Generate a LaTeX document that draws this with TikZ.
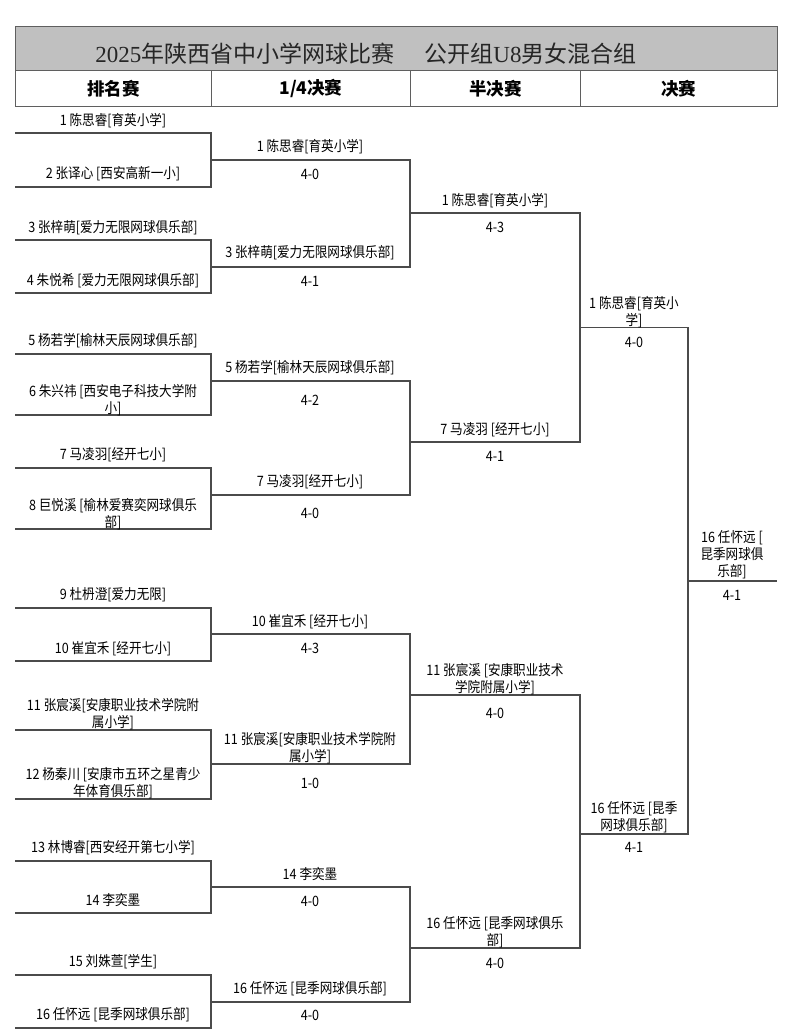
\documentclass[tikz,border=0pt]{standalone}
\usepackage{fontspec}
\setmainfont{Noto Sans CJK SC}
\newfontfamily\lblfont{Noto Sans CJK SC}[FakeStretch=0.88]
\newfontfamily\titleserif{Liberation Serif}
\definecolor{bandgray}{RGB}{192,192,192}
\definecolor{rule}{RGB}{95,95,95}
\definecolor{brk}{RGB}{75,75,75}
\tikzset{
  lbl/.style={inner sep=0pt, align=center, font=\lblfont\fontsize{14.3}{16.8}\selectfont},
  hdr/.style={draw=rule, line width=0.9pt, anchor=north west, minimum height=36pt,
              inner sep=0pt, font=\fontsize{17.5}{20}\selectfont\bfseries},
  brline/.style={draw=brk, line width=1.1pt, line join=miter},
}
\begin{document}
\begin{tikzpicture}[x=1pt,y=-1pt]
\useasboundingbox (0,0) rectangle (800,1035);
\fill[white] (0,0) rectangle (800,1035);

% title band
\draw[fill=bandgray, draw=rule, line width=0.9pt] (15,26) rectangle (777,70.5);
\node[inner sep=0pt, text=black!85, font=\fontsize{23}{26}\selectfont] (title) at (366,54)
  {{\titleserif 2025}年陕西省中小学网球比赛\hspace{1.3em}公开组{\titleserif U8}男女混合组};

% header row
\node[hdr, minimum width=196pt] (h1) at (15,70.5) {排名赛};
\node[hdr, minimum width=199pt] (h2) at (211,70.5) {1/4决赛};
\node[hdr, minimum width=170pt] (h3) at (410,70.5) {半决赛};
\node[hdr, minimum width=197pt] (h4) at (580,70.5) {决赛};

% ---------- coordinates ----------
% round 1 (x 15 -> 211)
\foreach \i/\t/\b in {1/133/187, 2/240/293, 3/354/415, 4/468/529, 5/608/661, 6/730/799, 7/861/913, 8/975/1028}{
  \coordinate (p\i ta) at (15,\t);  \coordinate (p\i tb) at (211,\t);
  \coordinate (p\i ba) at (15,\b);  \coordinate (p\i bb) at (211,\b);
}
% quarter-final lines (x 211 -> 410)
\foreach \i/\y in {1/160, 2/267, 3/381, 4/495, 5/634, 6/764, 7/887, 8/1002}{
  \coordinate (q\i a) at (211,\y); \coordinate (q\i b) at (410,\y);
}
% semi-final lines (x 410 -> 580)
\foreach \i/\y in {1/213, 2/442, 3/695, 4/948}{
  \coordinate (s\i a) at (410,\y); \coordinate (s\i b) at (580,\y);
}
% final lines (x 580 -> 688)
\coordinate (f1a) at (580,327.5); \coordinate (f1b) at (688,327.5);
\coordinate (f2a) at (580,834);   \coordinate (f2b) at (688,834);
% champion line
\coordinate (ca) at (688,581); \coordinate (cb) at (777,581);

% ---------- bracket lines ----------
\foreach \i in {1,...,8}{
  \draw[brline] (p\i ta) -- (p\i tb) -- (p\i bb) -- (p\i ba);
}
\draw[brline] (q1a) -- (q1b) -- (q2b) -- (q2a);
\draw[brline] (q3a) -- (q3b) -- (q4b) -- (q4a);
\draw[brline] (q5a) -- (q5b) -- (q6b) -- (q6a);
\draw[brline] (q7a) -- (q7b) -- (q8b) -- (q8a);
\draw[brline] (s1a) -- (s1b) -- (s2b) -- (s2a);
\draw[brline] (s3a) -- (s3b) -- (s4b) -- (s4a);
\draw[brline] (f1a) -- (f1b) -- (f2b) -- (f2a);
\draw[brline] (ca) -- (cb);

% ---------- round 1 labels (center x 113) ----------
\node[lbl] (r1) at (113,121) {1 陈思睿[育英小学]};
\node[lbl] (r2) at (113,174) {2 张译心 [西安高新一小]};
\node[lbl] (r3) at (113,228) {3 张梓萌[爱力无限网球俱乐部]};
\node[lbl] (r4) at (113,281) {4 朱悦希 [爱力无限网球俱乐部]};
\node[lbl] (r5) at (113,341) {5 杨若学[榆林天辰网球俱乐部]};
\node[lbl] (r6) at (113,400) {6 朱兴祎 [西安电子科技大学附\\小]};
\node[lbl] (r7) at (113,455) {7 马凌羽[经开七小]};
\node[lbl] (r8) at (113,514) {8 巨悦溪 [榆林爱赛奕网球俱乐\\部]};
\node[lbl] (r9) at (113,595) {9 杜枬澄[爱力无限]};
\node[lbl] (r10) at (113,649) {10 崔宜禾 [经开七小]};
\node[lbl] (r11) at (113,714) {11 张宸溪[安康职业技术学院附\\属小学]};
\node[lbl] (r12) at (113,783) {12 杨秦川 [安康市五环之星青少\\年体育俱乐部]};
\node[lbl] (r13) at (113,848) {13 林博睿[西安经开第七小学]};
\node[lbl] (r14) at (113,900) {14 李奕墨};
\node[lbl] (r15) at (113,962) {15 刘姝萱[学生]};
\node[lbl] (r16) at (113,1015) {16 任怀远 [昆季网球俱乐部]};

% ---------- quarter-final labels (center x 310) ----------
\node[lbl] (qw1) at (310,147) {1 陈思睿[育英小学]};
\node[lbl] (qs1) at (310,174) {4-0};
\node[lbl] (qw2) at (310,253) {3 张梓萌[爱力无限网球俱乐部]};
\node[lbl] (qs2) at (310,281) {4-1};
\node[lbl] (qw3) at (310,368) {5 杨若学[榆林天辰网球俱乐部]};
\node[lbl] (qs3) at (310,400) {4-2};
\node[lbl] (qw4) at (310,482) {7 马凌羽[经开七小]};
\node[lbl] (qs4) at (310,513) {4-0};
\node[lbl] (qw5) at (310,622) {10 崔宜禾 [经开七小]};
\node[lbl] (qs5) at (310,648) {4-3};
\node[lbl] (qw6) at (310,748) {11 张宸溪[安康职业技术学院附\\属小学]};
\node[lbl] (qs6) at (310,783) {1-0};
\node[lbl] (qw7) at (310,874) {14 李奕墨};
\node[lbl] (qs7) at (310,901) {4-0};
\node[lbl] (qw8) at (310,989) {16 任怀远 [昆季网球俱乐部]};
\node[lbl] (qs8) at (310,1015) {4-0};

% ---------- semi-final labels (center x 495) ----------
\node[lbl] (sw1) at (495,201) {1 陈思睿[育英小学]};
\node[lbl] (ss1) at (495,227) {4-3};
\node[lbl] (sw2) at (495,430) {7 马凌羽 [经开七小]};
\node[lbl] (ss2) at (495,456) {4-1};
\node[lbl] (sw3) at (495,679) {11 张宸溪 [安康职业技术\\学院附属小学]};
\node[lbl] (ss3) at (495,713) {4-0};
\node[lbl] (sw4) at (495,932) {16 任怀远 [昆季网球俱乐\\部]};
\node[lbl] (ss4) at (495,963) {4-0};

% ---------- final labels (center x 634) ----------
\node[lbl] (fw1) at (634,312) {1 陈思睿[育英小\\学]};
\node[lbl] (fs1) at (634,342) {4-0};
\node[lbl] (fw2) at (634,817) {16 任怀远 [昆季\\网球俱乐部]};
\node[lbl] (fs2) at (634,847) {4-1};

% ---------- champion (center x 732) ----------
\node[lbl] (cw) at (732,555) {16 任怀远 [\\昆季网球俱\\乐部]};
\node[lbl] (cs) at (732,595) {4-1};
\end{tikzpicture}
\end{document}
